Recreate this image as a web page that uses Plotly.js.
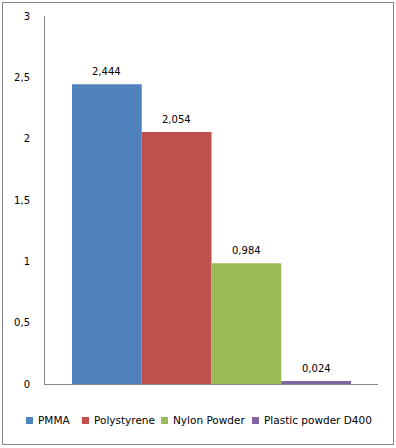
<!DOCTYPE html>
<html>
<head>
<meta charset="utf-8">
<script src="https://cdn.plot.ly/plotly-3.0.1.min.js"></script>
<style>
  html, body { margin: 0; padding: 0; background: #fff; }
  #wrap { position: relative; width: 396px; height: 448px; }
  #chart { position: absolute; left: 0; top: 0; width: 396px; height: 448px; }
  #frame { position: absolute; left: 2px; top: 2px; width: 390px; height: 441px; border: 1px solid #868686; pointer-events: none; }
</style>
</head>
<body>
<div id="wrap">
  <div id="chart"></div>
  <div id="frame"></div>
</div>
<script>
const seriesNames = ['PMMA', 'Polystyrene', 'Nylon Powder', 'Plastic powder D400'];
const seriesValues = [2.444, 2.054, 0.984, 0.024];
const seriesColors = ['#4F81BD', '#C0504D', '#9BBB59', '#8064A2'];
const category = ['Material'];
const yTickVals = [0, 0.5, 1, 1.5, 2, 2.5, 3];

// layout geometry (pixels)
const W = 396, H = 448;
const M = { l: 45, r: 18, t: 16, b: 64 };
const plotW = W - M.l - M.r, plotH = H - M.t - M.b;
const bargap = 0.162;
const barPx = plotW * (1 - bargap) / seriesNames.length;
const legendSquareX = [26, 82, 161, 252];
const legendCenterY = 420.5;
const legendSquare = 7;
const pxToPaperX = px => (px - M.l) / plotW;
const pxToPaperY = py => (H - M.b - py) / plotH;

const traces = seriesNames.map((name, i) => ({
  type: 'bar',
  name: name,
  x: category,
  y: [seriesValues[i]],
  marker: { color: seriesColors[i], line: { width: 0 } },
  hoverinfo: 'none',
  showlegend: false
}));

const fmt = v => v.toFixed(3).replace('.', ',');

const annotations = [];
const shapes = [];
seriesNames.forEach((name, i) => {
  // data labels
  annotations.push({
    x: category[0], y: seriesValues[i], xref: 'x', yref: 'y',
    text: fmt(seriesValues[i]),
    showarrow: false,
    xanchor: 'center', yanchor: 'middle',
    xshift: (i - (seriesNames.length - 1) / 2) * barPx,
    yshift: 12.5,
    font: { family: 'DejaVu Sans', size: 10, color: '#000' }
  });
  // legend square
  const sx = legendSquareX[i];
  shapes.push({
    type: 'rect', xref: 'paper', yref: 'paper',
    x0: pxToPaperX(sx), x1: pxToPaperX(sx + legendSquare),
    y0: pxToPaperY(legendCenterY - legendSquare / 2), y1: pxToPaperY(legendCenterY + legendSquare / 2),
    fillcolor: seriesColors[i], line: { width: 0 }
  });
  // legend text
  annotations.push({
    x: pxToPaperX(sx + legendSquare + 3), y: pxToPaperY(legendCenterY),
    xref: 'paper', yref: 'paper',
    text: name, showarrow: false,
    xanchor: 'left', yanchor: 'middle',
    font: { family: 'DejaVu Sans', size: 10.5, color: '#000' }
  });
});

const layout = {
  width: W,
  height: H,
  margin: M,
  paper_bgcolor: '#fff',
  plot_bgcolor: '#fff',
  separators: ', ',
  barmode: 'group',
  bargap: bargap,
  bargroupgap: 0,
  showlegend: false,
  font: { family: 'DejaVu Sans', size: 10, color: '#000' },
  annotations: annotations,
  shapes: shapes,
  xaxis: {
    type: 'category',
    showticklabels: false,
    showline: true,
    linecolor: '#868686',
    linewidth: 1,
    showgrid: false,
    zeroline: false,
    ticks: ''
  },
  yaxis: {
    range: [0, 3],
    tickvals: yTickVals,
    showline: true,
    linecolor: '#868686',
    linewidth: 1,
    showgrid: false,
    zeroline: false,
    ticks: '',
    ticklabelstandoff: 12,
    tickfont: { family: 'DejaVu Sans', size: 10, color: '#000' }
  }
};

Plotly.newPlot('chart', traces, layout, { staticPlot: true, displayModeBar: false });
</script>
</body>
</html>
